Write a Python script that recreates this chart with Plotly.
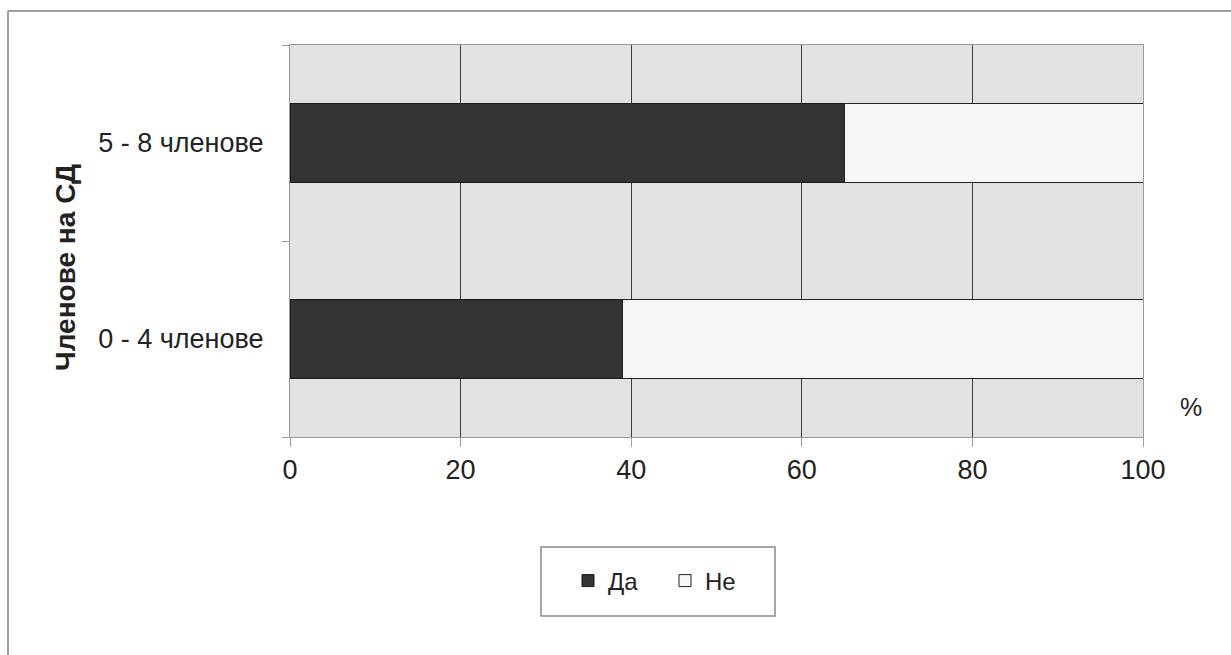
import plotly.graph_objects as go

# Board size groups and share of answers (%)
groups = ["0 - 4 членове", "5 - 8 членове"]
yes_pct = [39, 65]
no_pct = [61, 35]
series_names = ["Да", "Не"]

W, H = 1231, 655
L, R, T, B = 290, 1143, 45, 437  # plot area in pixels


def px(x):
    return (x - L) / (R - L)


def py(y):
    return (B - y) / (B - T)


font_family = "Liberation Sans, Arial, sans-serif"

fig = go.Figure()
fig.add_trace(go.Bar(
    y=groups, x=yes_pct, name=series_names[0], orientation="h",
    marker=dict(color="#333333", line=dict(color="#1a1a1a", width=1)),
    width=0.4,
))
fig.add_trace(go.Bar(
    y=groups, x=no_pct, name=series_names[1], orientation="h",
    marker=dict(color="#f6f6f6", line=dict(color="#222222", width=1)),
    width=0.4,
))

fig.update_layout(
    width=W, height=H,
    margin=dict(l=L, r=W - R, t=T, b=H - B),
    barmode="stack",
    paper_bgcolor="white",
    plot_bgcolor="#e2e2e2",
    font=dict(family=font_family, size=24, color="#222222"),
    showlegend=True,
    legend=dict(
        orientation="h", x=px(665), y=py(581), xanchor="center", yanchor="middle",
        bgcolor="rgba(0,0,0,0)", borderwidth=0,
        font=dict(size=24, color="#222222"),
        itemwidth=30, traceorder="normal",
        entrywidth=52, entrywidthmode="pixels",
    ),
    xaxis=dict(
        range=[0, 100], tickvals=[0, 20, 40, 60, 80, 100],
        showgrid=True, gridcolor="#3a3a3a", gridwidth=1,
        showline=True, linecolor="#9a9a9a", linewidth=1, mirror=True,
        ticks="outside", ticklen=9, tickcolor="#9a9a9a",
        tickfont=dict(size=27, color="#222222"),
        zeroline=False, fixedrange=True,
    ),
    yaxis=dict(
        categoryorder="array", categoryarray=groups,
        range=[-0.5, 1.5],
        showgrid=False,
        showline=True, linecolor="#9a9a9a", linewidth=1, mirror=True,
        ticks="outside", ticklen=7, tickcolor="#9a9a9a", tickson="boundaries",
        tickfont=dict(size=27, color="#222222"),
        ticklabelstandoff=20,
        zeroline=False, fixedrange=True,
    ),
)

# Axis title and unit label
fig.add_annotation(
    text="<b>Членове на СД</b>", textangle=-90,
    xref="paper", yref="paper", x=px(65), y=py(268),
    xanchor="center", yanchor="middle", showarrow=False,
    font=dict(size=28, color="#222222"),
)
fig.add_annotation(
    text="%", xref="paper", yref="paper", x=px(1191), y=py(407),
    xanchor="center", yanchor="middle", showarrow=False,
    font=dict(size=25, color="#222222"),
)

# Legend frame
fig.add_shape(
    type="rect", xref="paper", yref="paper",
    x0=px(541), x1=px(775), y0=py(616), y1=py(547),
    line=dict(color="#8a8a8a", width=1.5), fillcolor="rgba(0,0,0,0)",
    layer="above",
)

# Outer chart border (top and left edges)
fig.add_shape(
    type="line", xref="paper", yref="paper",
    x0=px(8), x1=px(1231), y0=py(11), y1=py(11),
    line=dict(color="#a0a0a0", width=2),
)
fig.add_shape(
    type="line", xref="paper", yref="paper",
    x0=px(8), x1=px(8), y0=py(11), y1=py(655),
    line=dict(color="#a0a0a0", width=2),
)

fig.write_html("out.html")
